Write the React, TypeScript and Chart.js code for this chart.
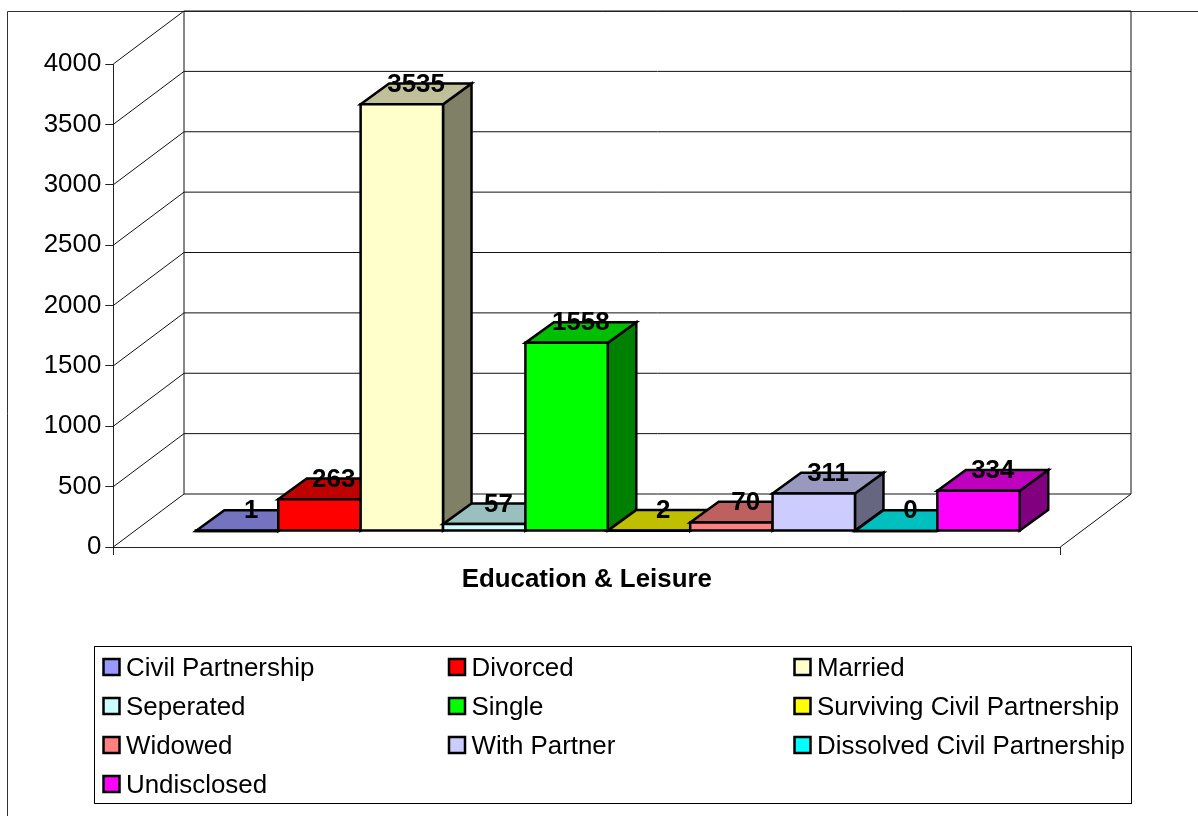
import React, { useEffect, useRef } from "react";
import { Chart, registerables } from "chart.js";

Chart.register(...registerables);

const categories = ["Education & Leisure"];
const seriesNames = [
  "Civil Partnership", "Divorced", "Married", "Seperated", "Single",
  "Surviving Civil Partnership", "Widowed", "With Partner", "Dissolved Civil Partnership", "Undisclosed",
];
const seriesValues = [1, 263, 3535, 57, 1558, 2, 70, 311, 0, 334];
const frontColors = ["#9999FF", "#FF0000", "#FFFFCC", "#CCFFFF", "#00FF00", "#FFFF00", "#FF8080", "#CCCCFF", "#00FFFF", "#FF00FF"];
const topColors = ["#7373BF", "#BF0000", "#BFBF99", "#99BFBF", "#00BF00", "#BFBF00", "#BF6060", "#9999BF", "#00BFBF", "#BF00BF"];
const sideColors = ["#666680", "#800000", "#808066", "#668080", "#008000", "#808000", "#804040", "#666680", "#008080", "#800080"];
const yTicksMax = 4000;
const yTickStep = 500;

const FONT = '"Liberation Sans", Arial, sans-serif';
const WALL = { dx: 70.7, dy: 53 };
const FLOOR = { dx: 21, dy: 16 };
const BOX = { dx: 28.5, dy: 20.7 };
const LEGEND = { left: 94.5, top: 646.5, right: 1131.5, bottom: 803.5, colX: [103.5, 449, 794.5], rowY: [667, 706, 745, 784], size: 16 };

function poly(ctx: CanvasRenderingContext2D, pts: number[][], fill: string) {
  ctx.beginPath();
  pts.forEach((p, i) => (i ? ctx.lineTo(p[0], p[1]) : ctx.moveTo(p[0], p[1])));
  ctx.closePath();
  ctx.fillStyle = fill;
  ctx.fill();
  ctx.stroke();
}

const chart3d = {
  id: "chart3d",
  beforeDraw(chart: any) {
    const c = chart.ctx;
    c.save();
    c.fillStyle = "#ffffff";
    c.fillRect(0, 0, chart.width, chart.height);
    c.strokeStyle = "#333333";
    c.lineWidth = 1;
    c.beginPath();
    c.moveTo(7.5, 816);
    c.lineTo(7.5, 11.5);
    c.lineTo(1198, 11.5);
    c.stroke();
    c.restore();
  },
  beforeDatasetsDraw(chart: any) {
    const c = chart.ctx;
    const { left, right } = chart.chartArea;
    const y = chart.scales.y;
    c.save();
    c.strokeStyle = "#111111";
    c.lineWidth = 1;
    y.ticks.forEach((t: any) => {
      const py = y.getPixelForValue(t.value);
      c.beginPath();
      c.moveTo(left, py);
      c.lineTo(left + WALL.dx, py - WALL.dy);
      c.lineTo(right + WALL.dx, py - WALL.dy);
      c.stroke();
    });
    const basePx = y.getPixelForValue(0);
    const base = basePx - WALL.dy;
    const top = y.getPixelForValue(yTicksMax) - WALL.dy;
    c.beginPath();
    c.moveTo(left + WALL.dx, top);
    c.lineTo(left + WALL.dx, base);
    c.moveTo(right + WALL.dx, top);
    c.lineTo(right + WALL.dx, base);
    c.lineTo(right, basePx);
    c.stroke();
    c.restore();
  },
  beforeDatasetDraw() {
    return false;
  },
  afterDatasetsDraw(chart: any) {
    const c = chart.ctx;
    c.save();
    c.lineWidth = 2.5;
    c.strokeStyle = "#000000";
    c.lineJoin = "miter";
    const boxes = chart.data.datasets.map((ds: any, i: number) => {
      const el = chart.getDatasetMeta(i).data[0];
      const l = el.x - el.width / 2 + FLOOR.dx;
      const r = el.x + el.width / 2 + FLOOR.dx;
      const b = el.base - FLOOR.dy;
      const t = el.y - FLOOR.dy;
      return { l, r, b, t, i, value: ds.data[0] };
    });
    boxes.forEach(({ l, r, b, t, i }: any) => {
      poly(c, [[r, b], [r + BOX.dx, b - BOX.dy], [r + BOX.dx, t - BOX.dy], [r, t]], sideColors[i]);
      poly(c, [[l, t], [r, t], [r + BOX.dx, t - BOX.dy], [l + BOX.dx, t - BOX.dy]], topColors[i]);
      poly(c, [[l, b], [r, b], [r, t], [l, t]], frontColors[i]);
    });
    c.fillStyle = "#000000";
    c.font = `bold 25.9px ${FONT}`;
    c.textAlign = "center";
    c.textBaseline = "middle";
    boxes.forEach(({ l, r, t, value }: any) => {
      c.fillText(String(value), (l + r) / 2 + BOX.dx / 2, t - BOX.dy + 1);
    });
    c.restore();
  },
  afterDraw(chart: any) {
    const c = chart.ctx;
    const L = LEGEND;
    c.save();
    c.strokeStyle = "#000000";
    c.lineWidth = 1;
    c.fillStyle = "#ffffff";
    c.fillRect(L.left, L.top, L.right - L.left, L.bottom - L.top);
    c.strokeRect(L.left, L.top, L.right - L.left, L.bottom - L.top);
    c.font = `25.9px ${FONT}`;
    c.textAlign = "left";
    c.textBaseline = "middle";
    chart.data.datasets.forEach((ds: any, i: number) => {
      const x = L.colX[i % 3];
      const y = L.rowY[Math.floor(i / 3)];
      c.fillStyle = ds.backgroundColor;
      c.lineWidth = 2.5;
      c.fillRect(x, y - L.size / 2, L.size, L.size);
      c.strokeRect(x, y - L.size / 2, L.size, L.size);
      c.fillStyle = "#000000";
      c.fillText(ds.label, x + 22.5, y + 1.5);
    });
    c.restore();
  },
};

export default function App() {
  const ref = useRef<HTMLCanvasElement>(null);
  useEffect(() => {
    const chart = new Chart(ref.current as HTMLCanvasElement, {
      type: "bar",
      data: {
        labels: categories,
        datasets: seriesNames.map((name, i) => ({
          label: name,
          data: [seriesValues[i]],
          backgroundColor: frontColors[i],
          borderColor: "#000000",
          borderWidth: 2,
          categoryPercentage: 0.87,
          barPercentage: 1,
        })),
      },
      options: {
        responsive: false,
        animation: false,
        devicePixelRatio: 1,
        events: [],
        layout: { padding: { top: 64, right: 137.7, left: 0, bottom: 0 } },
        plugins: { legend: { display: false }, title: { display: false }, tooltip: { enabled: false } },
        scales: {
          x: {
            afterFit: (s: any) => { s.height = 269; },
            grid: { drawOnChartArea: false, color: "#222222", tickLength: 8 },
            border: { display: true, color: "#222222", width: 1 },
            ticks: { color: "#000000", font: { family: FONT, size: 25.9, weight: "bold" }, padding: 9, maxRotation: 0 },
          },
          y: {
            min: 0,
            max: yTicksMax,
            afterFit: (s: any) => { s.width = 113.3; },
            grid: { drawOnChartArea: false, color: "#222222", tickLength: 8 },
            border: { display: true, color: "#222222", width: 1 },
            ticks: {
              stepSize: yTickStep,
              color: "#000000",
              font: { family: FONT, size: 25.9 },
              padding: 4,
              callback: (v: any) => String(v),
            },
          },
        },
      } as any,
      plugins: [chart3d as any],
    });
    return () => chart.destroy();
  }, []);
  return (
    <canvas
      ref={ref}
      width={1198}
      height={816}
      style={{ position: "fixed", left: 0, top: 0, width: 1198, height: 816, display: "block" }}
    />
  );
}
